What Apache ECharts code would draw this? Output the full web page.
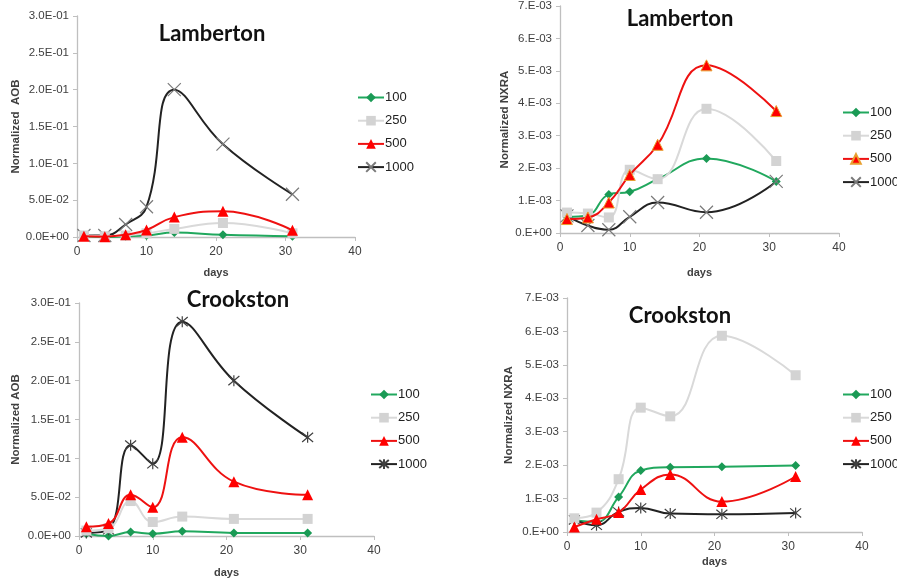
<!DOCTYPE html>
<html>
<head>
<meta charset="utf-8">
<script src="https://cdn.jsdelivr.net/npm/echarts@6/dist/echarts.min.js"></script>
<style>
  html, body { margin: 0; padding: 0; background: #fff; }
  #chart { width: 897px; height: 586px; }
</style>
</head>
<body>
<div id="chart"></div>
<script>
// sampling days
const days = [1, 4, 7, 10, 14, 21, 31];
const doses = ["100", "250", "500", "1000"];

// Lamberton, normalized AOB
const lambAob100 = [0.001, 0.000, 0.001, 0.002, 0.006, 0.003, 0.001];
const lambAob250 = [0.002, 0.001, 0.002, 0.005, 0.011, 0.019, 0.005];
const lambAob500 = [0.001, 0.0005, 0.003, 0.0095, 0.027, 0.035, 0.009];
const lambAob1000 = [0.002, 0.002, 0.017, 0.041, 0.200, 0.126, 0.058];

// Lamberton, normalized NXRA
const lambNxra100 = [0.00050, 0.00055, 0.00119, 0.00127, 0.00166, 0.00230, 0.00159];
const lambNxra250 = [0.00063, 0.00060, 0.00048, 0.00195, 0.00166, 0.00383, 0.00222];
const lambNxra500 = [0.00043, 0.00048, 0.00094, 0.00179, 0.00272, 0.00517, 0.00376];
const lambNxra1000 = [0.00053, 0.00023, 0.00010, 0.00050, 0.00094, 0.00064, 0.00159];

// Crookston, normalized AOB
const crookAob100 = [0.003, 0.000, 0.005, 0.003, 0.006, 0.004, 0.004];
const crookAob250 = [0.007, 0.010, 0.045, 0.018, 0.025, 0.022, 0.022];
const crookAob500 = [0.012, 0.016, 0.053, 0.037, 0.127, 0.070, 0.053];
const crookAob1000 = [0.004, 0.008, 0.117, 0.093, 0.276, 0.200, 0.127];

// Crookston, normalized NXRA
const crookNxra100 = [0.00035, 0.00030, 0.00105, 0.00184, 0.00194, 0.00195, 0.00199];
const crookNxra250 = [0.00041, 0.00058, 0.00158, 0.00372, 0.00346, 0.00587, 0.00469];
const crookNxra500 = [0.00015, 0.00038, 0.00058, 0.00127, 0.00172, 0.00091, 0.00166];
const crookNxra1000 = [0.00036, 0.00020, 0.00060, 0.00072, 0.00055, 0.00053, 0.00057];

const tickFont = "Liberation Sans";
const titleFont = "Lato";
const axisGray = "#bfbfbf";
const textGray = "#404040";

// "3.0E-01" style
function sciOne(v) {
  if (v === 0) return "0.0E+00";
  let e = Math.floor(Math.log10(v) + 1e-9);
  let m = v / Math.pow(10, e);
  return m.toFixed(1) + "E" + (e < 0 ? "-" : "+") + String(Math.abs(e)).padStart(2, "0");
}
// "7.E-03" style
function sciZero(v) {
  if (v === 0) return "0.E+00";
  let e = Math.floor(Math.log10(v) + 1e-9);
  let m = v / Math.pow(10, e);
  return m.toFixed(0) + ".E" + (e < 0 ? "-" : "+") + String(Math.abs(e)).padStart(2, "0");
}

const xMark = "path://M0,0L10,10M10,0L0,10";
const starMark = "path://M0,0L10,10M10,0L0,10M5,-1L5,11";

function styleFor(dose, panel) {
  if (dose === "100") {
    return { symbol: "diamond", symbolSize: 9, item: { color: "#1a9a55" }, line: "#21a85e" };
  }
  if (dose === "250") {
    return { symbol: "rect", symbolSize: 10, item: { color: "#d3d3d3" }, line: "#d9d9d9" };
  }
  if (dose === "500") {
    let item = { color: "#ff0000" };
    if (panel === 1) { item.borderColor = "#e8a030"; item.borderWidth = 1; }
    return { symbol: "triangle", symbolSize: 11, item: item, line: "#ee1111" };
  }
  let star = panel >= 2;
  return {
    symbol: star ? starMark : xMark,
    symbolSize: star ? 11 : 13,
    item: { color: "transparent", borderColor: star ? "#404040" : "#7a7a7a", borderWidth: 1.2 },
    line: "#222222"
  };
}

const panels = [
  { key: "LA", title: "Lamberton", cx: 207, ty: 18, grid: { left: 77, right: 542, top: 16, bottom: 349 },
    data: [lambAob100, lambAob250, lambAob500, lambAob1000], max: 0.3, interval: 0.05, fmt: sciOne,
    yName: "Normalized  AOB", yGap: 51, xGap: 30, legend: { left: 357, top: 91 } },
  { key: "LN", title: "Lamberton", cx: 675, ty: 3, grid: { left: 560, right: 58, top: 1, bottom: 353 },
    data: [lambNxra100, lambNxra250, lambNxra500, lambNxra1000], max: 0.007, interval: 0.001, fmt: sciZero,
    yName: "Normalized NXRA", yGap: 49, xGap: 34, legend: { left: 842, top: 106 } },
  { key: "CA", title: "Crookston", cx: 233, ty: 284, grid: { left: 79, right: 523, top: 303, bottom: 50 },
    data: [crookAob100, crookAob250, crookAob500, crookAob1000], max: 0.3, interval: 0.05, fmt: sciOne,
    yName: "Normalized AOB", yGap: 57, xGap: 31, legend: { left: 370, top: 388 } },
  { key: "CN", title: "Crookston", cx: 675, ty: 300, grid: { left: 567, right: 35, top: 298, bottom: 54 },
    data: [crookNxra100, crookNxra250, crookNxra500, crookNxra1000], max: 0.007, interval: 0.001, fmt: sciZero,
    yName: "Normalized NXRA", yGap: 52, xGap: 24, legend: { left: 842, top: 388 } }
];

let grids = [], xAxes = [], yAxes = [], titles = [], legends = [], series = [];
panels.forEach((p, i) => {
  grids.push(Object.assign({ containLabel: false }, p.grid));
  titles.push({
    text: p.title, left: p.cx, top: p.ty, textAlign: "center",
    textStyle: { fontFamily: titleFont, fontWeight: "bold", fontSize: 22, color: "#111" }
  });
  xAxes.push({
    type: "value", gridIndex: i, min: 0, max: 40, interval: 10,
    name: "days", nameLocation: "middle", nameGap: p.xGap,
    nameTextStyle: { fontFamily: tickFont, fontWeight: "bold", fontSize: 11, color: textGray },
    axisLine: { lineStyle: { color: axisGray, width: 1.3 } },
    axisTick: { show: true, length: 4, lineStyle: { color: axisGray } },
    axisLabel: { fontFamily: tickFont, fontSize: 12, color: textGray, margin: 9 },
    splitLine: { show: false }
  });
  yAxes.push({
    type: "value", gridIndex: i, min: 0, max: p.max, interval: p.interval,
    name: p.yName, nameLocation: "middle", nameGap: p.yGap,
    nameTextStyle: { fontFamily: tickFont, fontWeight: "bold", fontSize: 11.5, color: textGray },
    axisLine: { show: true, lineStyle: { color: axisGray, width: 1.3 } },
    axisTick: { show: true, length: 4, lineStyle: { color: axisGray } },
    axisLabel: { fontFamily: tickFont, fontSize: 11.5, color: textGray, margin: 8, formatter: p.fmt },
    splitLine: { show: false }
  });
  let names = [];
  doses.forEach((d, j) => {
    let st = styleFor(d, i);
    let name = p.key + " " + d;
    names.push(name);
    series.push({
      name: name, type: "line", xAxisIndex: i, yAxisIndex: i,
      data: days.map((x, k) => [x, p.data[j][k]]),
      smooth: 0.45,
      symbol: st.symbol, symbolSize: st.symbolSize,
      itemStyle: st.item,
      lineStyle: { color: st.line, width: 2 },
      z: 2 + (d === "1000" ? 0 : j),
      animation: false
    });
  });
  legends.push({
    data: names, orient: "vertical", left: p.legend.left, top: p.legend.top,
    padding: 0, itemWidth: 26, itemHeight: 12, itemGap: 10.2,
    formatter: n => n.split(" ")[1],
    textStyle: { fontFamily: tickFont, fontSize: 13, color: "#222", padding: [0, 0, 0, -4] },
    selectedMode: false
  });
});

let myChart = echarts.init(document.getElementById("chart"));
myChart.setOption({
  animation: false,
  title: titles,
  legend: legends,
  grid: grids,
  xAxis: xAxes,
  yAxis: yAxes,
  series: series
});
</script>
</body>
</html>
